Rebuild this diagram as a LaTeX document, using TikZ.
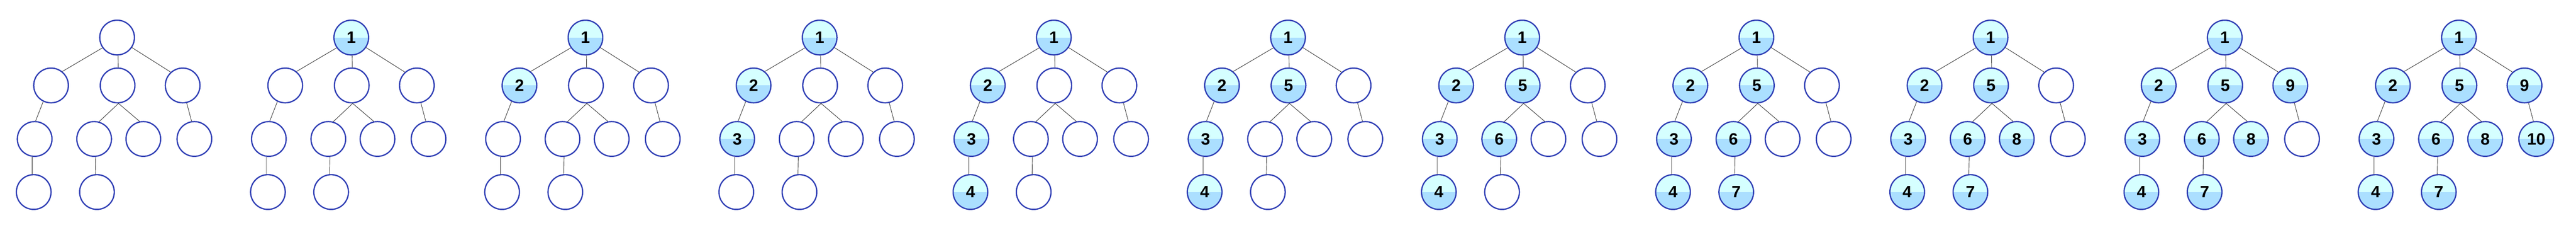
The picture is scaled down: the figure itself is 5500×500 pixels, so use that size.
\documentclass[tikz,border=0pt]{standalone}
\usepackage{fontspec}
\setmainfont{Liberation Sans}

\definecolor{ringblue}{HTML}{2E3DB4}
\definecolor{tophalf}{HTML}{D5FFFF}
\definecolor{bothalf}{HTML}{ABDFFF}
\definecolor{edgegray}{HTML}{333333}

\tikzset{
  vert/.style={circle, draw=ringblue, line width=0.27mm, fill=white,
    minimum size=7.4mm, inner sep=0pt,
    font=\bfseries\fontsize{10}{12}\selectfont},
  visited/.style={vert, fill=bothalf,
    path picture={\fill[tophalf] (path picture bounding box.north west)
      rectangle (path picture bounding box.east);}},
  branch/.style={draw=edgegray, line width=0.1mm}
}

\begin{document}
\begin{tikzpicture}[x=0.1mm, y=-0.1mm]

\useasboundingbox (0,0) rectangle (5500,500);

% one tree per step, nodes numbered in visiting order
\foreach \k in {0,...,10} {
  \foreach \n/\x/\y in {1/250/80, 2/109/182, 3/74/296, 4/72/409, 5/251/182,
                        6/201/296, 7/207/409, 8/306/296, 9/390/182, 10/415/296} {
    \ifnum\n>\k
      \node [vert] (p\k-\n) at ({\x+500*\k},\y) {};
    \else
      \node [visited] (p\k-\n) at ({\x+500*\k},\y) {\n};
    \fi
  }
  \foreach \a/\b/\s/\e in {1/2/215/51, 1/5/273/88, 1/9/326/132, 2/3/244/87,
                           3/4/262/95, 5/6/273/74, 5/8/273/102, 6/7/275/95,
                           9/10/283/99}
    \draw [branch] (p\k-\a.\s) -- (p\k-\b.\e);
}

\end{tikzpicture}
\end{document}
